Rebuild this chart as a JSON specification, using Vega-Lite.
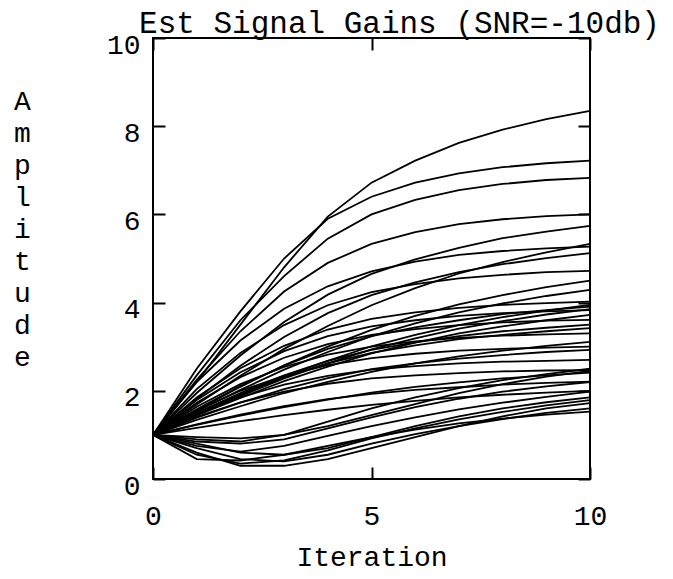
{
"$schema": "https://vega.github.io/schema/vega-lite/v6.json",
"width": 437, "height": 441,
"autosize": {"type": "none"},
"padding": {"left": 153, "top": 38, "right": 83, "bottom": 100},
"background": "white",
"config": {"view": {"stroke": "black", "strokeWidth": 2}, "font": "Liberation Mono"},
"title": {"text": "Est Signal Gains (SNR=-10db)", "font": "Liberation Mono", "fontSize": 31, "fontWeight": "normal", "color": "black", "anchor": "middle", "dx": 28, "offset": -9},
"data": {"values": [
{"c":1,"x":0,"y":1},{"c":1,"x":1,"y":2.2},{"c":1,"x":2,"y":3.5},{"c":1,"x":3,"y":4.8},{"c":1,"x":4,"y":5.95},{"c":1,"x":5,"y":6.72},{"c":1,"x":6,"y":7.22},{"c":1,"x":7,"y":7.62},{"c":1,"x":8,"y":7.92},{"c":1,"x":9,"y":8.16},{"c":1,"x":10,"y":8.35},
{"c":2,"x":0,"y":1},{"c":2,"x":1,"y":2.5},{"c":2,"x":2,"y":3.8},{"c":2,"x":3,"y":5.0},{"c":2,"x":4,"y":5.9},{"c":2,"x":5,"y":6.4},{"c":2,"x":6,"y":6.72},{"c":2,"x":7,"y":6.93},{"c":2,"x":8,"y":7.07},{"c":2,"x":9,"y":7.16},{"c":2,"x":10,"y":7.22},
{"c":3,"x":0,"y":1},{"c":3,"x":1,"y":2.35},{"c":3,"x":2,"y":3.6},{"c":3,"x":3,"y":4.6},{"c":3,"x":4,"y":5.45},{"c":3,"x":5,"y":6.0},{"c":3,"x":6,"y":6.33},{"c":3,"x":7,"y":6.55},{"c":3,"x":8,"y":6.69},{"c":3,"x":9,"y":6.78},{"c":3,"x":10,"y":6.83},
{"c":4,"x":0,"y":1},{"c":4,"x":1,"y":2.25},{"c":4,"x":2,"y":3.35},{"c":4,"x":3,"y":4.25},{"c":4,"x":4,"y":4.9},{"c":4,"x":5,"y":5.33},{"c":4,"x":6,"y":5.6},{"c":4,"x":7,"y":5.78},{"c":4,"x":8,"y":5.89},{"c":4,"x":9,"y":5.96},{"c":4,"x":10,"y":6.0},
{"c":5,"x":0,"y":1},{"c":5,"x":1,"y":1.95},{"c":5,"x":2,"y":2.8},{"c":5,"x":3,"y":3.56},{"c":5,"x":4,"y":4.18},{"c":5,"x":5,"y":4.65},{"c":5,"x":6,"y":4.98},{"c":5,"x":7,"y":5.24},{"c":5,"x":8,"y":5.46},{"c":5,"x":9,"y":5.61},{"c":5,"x":10,"y":5.74},
{"c":6,"x":0,"y":1},{"c":6,"x":1,"y":1.69},{"c":6,"x":2,"y":2.34},{"c":6,"x":3,"y":2.95},{"c":6,"x":4,"y":3.47},{"c":6,"x":5,"y":3.94},{"c":6,"x":6,"y":4.33},{"c":6,"x":7,"y":4.66},{"c":6,"x":8,"y":4.92},{"c":6,"x":9,"y":5.14},{"c":6,"x":10,"y":5.33},
{"c":7,"x":0,"y":1},{"c":7,"x":1,"y":2.2},{"c":7,"x":2,"y":3.14},{"c":7,"x":3,"y":3.86},{"c":7,"x":4,"y":4.37},{"c":7,"x":5,"y":4.71},{"c":7,"x":6,"y":4.93},{"c":7,"x":7,"y":5.08},{"c":7,"x":8,"y":5.17},{"c":7,"x":9,"y":5.23},{"c":7,"x":10,"y":5.27},
{"c":8,"x":0,"y":1},{"c":8,"x":1,"y":1.82},{"c":8,"x":2,"y":2.57},{"c":8,"x":3,"y":3.22},{"c":8,"x":4,"y":3.76},{"c":8,"x":5,"y":4.17},{"c":8,"x":6,"y":4.46},{"c":8,"x":7,"y":4.69},{"c":8,"x":8,"y":4.87},{"c":8,"x":9,"y":5.01},{"c":8,"x":10,"y":5.12},
{"c":9,"x":0,"y":1},{"c":9,"x":1,"y":2.04},{"c":9,"x":2,"y":2.86},{"c":9,"x":3,"y":3.49},{"c":9,"x":4,"y":3.94},{"c":9,"x":5,"y":4.24},{"c":9,"x":6,"y":4.42},{"c":9,"x":7,"y":4.55},{"c":9,"x":8,"y":4.63},{"c":9,"x":9,"y":4.69},{"c":9,"x":10,"y":4.72},
{"c":10,"x":0,"y":1},{"c":10,"x":1,"y":1.53},{"c":10,"x":2,"y":2.02},{"c":10,"x":3,"y":2.48},{"c":10,"x":4,"y":2.88},{"c":10,"x":5,"y":3.24},{"c":10,"x":6,"y":3.53},{"c":10,"x":7,"y":3.78},{"c":10,"x":8,"y":3.98},{"c":10,"x":9,"y":4.15},{"c":10,"x":10,"y":4.29},
{"c":11,"x":0,"y":1},{"c":11,"x":1,"y":1.85},{"c":11,"x":2,"y":2.51},{"c":11,"x":3,"y":3.02},{"c":11,"x":4,"y":3.39},{"c":11,"x":5,"y":3.63},{"c":11,"x":6,"y":3.78},{"c":11,"x":7,"y":3.88},{"c":11,"x":8,"y":3.95},{"c":11,"x":9,"y":3.99},{"c":11,"x":10,"y":4.02},
{"c":12,"x":0,"y":1},{"c":12,"x":1,"y":1.47},{"c":12,"x":2,"y":1.91},{"c":12,"x":3,"y":2.33},{"c":12,"x":4,"y":2.68},{"c":12,"x":5,"y":3.01},{"c":12,"x":6,"y":3.27},{"c":12,"x":7,"y":3.49},{"c":12,"x":8,"y":3.67},{"c":12,"x":9,"y":3.82},{"c":12,"x":10,"y":3.95},
{"c":13,"x":0,"y":1},{"c":13,"x":1,"y":1.58},{"c":13,"x":2,"y":2.11},{"c":13,"x":3,"y":2.57},{"c":13,"x":4,"y":2.95},{"c":13,"x":5,"y":3.24},{"c":13,"x":6,"y":3.44},{"c":13,"x":7,"y":3.6},{"c":13,"x":8,"y":3.74},{"c":13,"x":9,"y":3.83},{"c":13,"x":10,"y":3.91},
{"c":14,"x":0,"y":1},{"c":14,"x":1,"y":1.79},{"c":14,"x":2,"y":2.42},{"c":14,"x":3,"y":2.9},{"c":14,"x":4,"y":3.24},{"c":14,"x":5,"y":3.46},{"c":14,"x":6,"y":3.6},{"c":14,"x":7,"y":3.7},{"c":14,"x":8,"y":3.76},{"c":14,"x":9,"y":3.8},{"c":14,"x":10,"y":3.83},
{"c":15,"x":0,"y":1},{"c":15,"x":1,"y":1.44},{"c":15,"x":2,"y":1.84},{"c":15,"x":3,"y":2.22},{"c":15,"x":4,"y":2.55},{"c":15,"x":5,"y":2.85},{"c":15,"x":6,"y":3.09},{"c":15,"x":7,"y":3.3},{"c":15,"x":8,"y":3.46},{"c":15,"x":9,"y":3.6},{"c":15,"x":10,"y":3.72},
{"c":16,"x":0,"y":1},{"c":16,"x":1,"y":1.73},{"c":16,"x":2,"y":2.31},{"c":16,"x":3,"y":2.75},{"c":16,"x":4,"y":3.06},{"c":16,"x":5,"y":3.27},{"c":16,"x":6,"y":3.4},{"c":16,"x":7,"y":3.49},{"c":16,"x":8,"y":3.55},{"c":16,"x":9,"y":3.59},{"c":16,"x":10,"y":3.61},
{"c":17,"x":0,"y":1},{"c":17,"x":1,"y":1.48},{"c":17,"x":2,"y":1.92},{"c":17,"x":3,"y":2.31},{"c":17,"x":4,"y":2.62},{"c":17,"x":5,"y":2.86},{"c":17,"x":6,"y":3.03},{"c":17,"x":7,"y":3.17},{"c":17,"x":8,"y":3.27},{"c":17,"x":9,"y":3.35},{"c":17,"x":10,"y":3.42},
{"c":18,"x":0,"y":1},{"c":18,"x":1,"y":1.64},{"c":18,"x":2,"y":2.15},{"c":18,"x":3,"y":2.54},{"c":18,"x":4,"y":2.82},{"c":18,"x":5,"y":3.0},{"c":18,"x":6,"y":3.12},{"c":18,"x":7,"y":3.2},{"c":18,"x":8,"y":3.25},{"c":18,"x":9,"y":3.28},{"c":18,"x":10,"y":3.3},
{"c":19,"x":0,"y":1},{"c":19,"x":1,"y":1.34},{"c":19,"x":2,"y":1.65},{"c":19,"x":3,"y":1.95},{"c":19,"x":4,"y":2.2},{"c":19,"x":5,"y":2.43},{"c":19,"x":6,"y":2.62},{"c":19,"x":7,"y":2.78},{"c":19,"x":8,"y":2.91},{"c":19,"x":9,"y":3.02},{"c":19,"x":10,"y":3.11},
{"c":20,"x":0,"y":1},{"c":20,"x":1,"y":1.56},{"c":20,"x":2,"y":2.0},{"c":20,"x":3,"y":2.34},{"c":20,"x":4,"y":2.58},{"c":20,"x":5,"y":2.74},{"c":20,"x":6,"y":2.84},{"c":20,"x":7,"y":2.91},{"c":20,"x":8,"y":2.95},{"c":20,"x":9,"y":2.98},{"c":20,"x":10,"y":3.0},
{"c":21,"x":0,"y":1},{"c":21,"x":1,"y":1.39},{"c":21,"x":2,"y":1.73},{"c":21,"x":3,"y":2.04},{"c":21,"x":4,"y":2.29},{"c":21,"x":5,"y":2.49},{"c":21,"x":6,"y":2.62},{"c":21,"x":7,"y":2.73},{"c":21,"x":8,"y":2.81},{"c":21,"x":9,"y":2.88},{"c":21,"x":10,"y":2.93},
{"c":22,"x":0,"y":1},{"c":22,"x":1,"y":1.41},{"c":22,"x":2,"y":1.74},{"c":22,"x":3,"y":1.98},{"c":22,"x":4,"y":2.16},{"c":22,"x":5,"y":2.28},{"c":22,"x":6,"y":2.35},{"c":22,"x":7,"y":2.4},{"c":22,"x":8,"y":2.44},{"c":22,"x":9,"y":2.46},{"c":22,"x":10,"y":2.47},
{"c":23,"x":0,"y":1},{"c":23,"x":1,"y":1.23},{"c":23,"x":2,"y":1.44},{"c":23,"x":3,"y":1.63},{"c":23,"x":4,"y":1.8},{"c":23,"x":5,"y":1.96},{"c":23,"x":6,"y":2.09},{"c":23,"x":7,"y":2.19},{"c":23,"x":8,"y":2.28},{"c":23,"x":9,"y":2.35},{"c":23,"x":10,"y":2.41},
{"c":24,"x":0,"y":1},{"c":24,"x":1,"y":1.24},{"c":24,"x":2,"y":1.46},{"c":24,"x":3,"y":1.65},{"c":24,"x":4,"y":1.81},{"c":24,"x":5,"y":1.93},{"c":24,"x":6,"y":2.02},{"c":24,"x":7,"y":2.08},{"c":24,"x":8,"y":2.14},{"c":24,"x":9,"y":2.18},{"c":24,"x":10,"y":2.21},
{"c":25,"x":0,"y":1},{"c":25,"x":1,"y":0.75},{"c":25,"x":2,"y":0.62},{"c":25,"x":3,"y":0.75},{"c":25,"x":4,"y":0.98},{"c":25,"x":5,"y":1.2},{"c":25,"x":6,"y":1.4},{"c":25,"x":7,"y":1.58},{"c":25,"x":8,"y":1.73},{"c":25,"x":9,"y":1.86},{"c":25,"x":10,"y":1.98},
{"c":26,"x":0,"y":1},{"c":26,"x":1,"y":0.55},{"c":26,"x":2,"y":0.35},{"c":26,"x":3,"y":0.42},{"c":26,"x":4,"y":0.65},{"c":26,"x":5,"y":0.92},{"c":26,"x":6,"y":1.15},{"c":26,"x":7,"y":1.35},{"c":26,"x":8,"y":1.52},{"c":26,"x":9,"y":1.67},{"c":26,"x":10,"y":1.79},
{"c":27,"x":0,"y":1},{"c":27,"x":1,"y":0.6},{"c":27,"x":2,"y":0.3},{"c":27,"x":3,"y":0.3},{"c":27,"x":4,"y":0.45},{"c":27,"x":5,"y":0.7},{"c":27,"x":6,"y":0.95},{"c":27,"x":7,"y":1.2},{"c":27,"x":8,"y":1.42},{"c":27,"x":9,"y":1.6},{"c":27,"x":10,"y":1.72},
{"c":28,"x":0,"y":1},{"c":28,"x":1,"y":0.45},{"c":28,"x":2,"y":0.42},{"c":28,"x":3,"y":0.55},{"c":28,"x":4,"y":0.75},{"c":28,"x":5,"y":0.95},{"c":28,"x":6,"y":1.12},{"c":28,"x":7,"y":1.26},{"c":28,"x":8,"y":1.37},{"c":28,"x":9,"y":1.46},{"c":28,"x":10,"y":1.53},
{"c":29,"x":0,"y":1},{"c":29,"x":1,"y":0.7},{"c":29,"x":2,"y":0.45},{"c":29,"x":3,"y":0.4},{"c":29,"x":4,"y":0.55},{"c":29,"x":5,"y":0.8},{"c":29,"x":6,"y":1.02},{"c":29,"x":7,"y":1.2},{"c":29,"x":8,"y":1.36},{"c":29,"x":9,"y":1.5},{"c":29,"x":10,"y":1.6},
{"c":30,"x":0,"y":1},{"c":30,"x":1,"y":0.9},{"c":30,"x":2,"y":0.85},{"c":30,"x":3,"y":1.0},{"c":30,"x":4,"y":1.3},{"c":30,"x":5,"y":1.6},{"c":30,"x":6,"y":1.85},{"c":30,"x":7,"y":2.06},{"c":30,"x":8,"y":2.24},{"c":30,"x":9,"y":2.38},{"c":30,"x":10,"y":2.5},
{"c":31,"x":0,"y":1},{"c":31,"x":1,"y":1.16},{"c":31,"x":2,"y":1.31},{"c":31,"x":3,"y":1.45},{"c":31,"x":4,"y":1.57},{"c":31,"x":5,"y":1.68},{"c":31,"x":6,"y":1.77},{"c":31,"x":7,"y":1.85},{"c":31,"x":8,"y":1.91},{"c":31,"x":9,"y":1.96},{"c":31,"x":10,"y":2.0},
{"c":32,"x":0,"y":1},{"c":32,"x":1,"y":1.5},{"c":32,"x":2,"y":1.95},{"c":32,"x":3,"y":2.35},{"c":32,"x":4,"y":2.68},{"c":32,"x":5,"y":2.93},{"c":32,"x":6,"y":3.1},{"c":32,"x":7,"y":3.24},{"c":32,"x":8,"y":3.35},{"c":32,"x":9,"y":3.43},{"c":32,"x":10,"y":3.5},
{"c":33,"x":0,"y":1},{"c":33,"x":1,"y":1.56},{"c":33,"x":2,"y":2.09},{"c":33,"x":3,"y":2.58},{"c":33,"x":4,"y":3.0},{"c":33,"x":5,"y":3.38},{"c":33,"x":6,"y":3.7},{"c":33,"x":7,"y":3.96},{"c":33,"x":8,"y":4.17},{"c":33,"x":9,"y":4.35},{"c":33,"x":10,"y":4.5},
{"c":34,"x":0,"y":1},{"c":34,"x":1,"y":1.48},{"c":34,"x":2,"y":1.85},{"c":34,"x":3,"y":2.14},{"c":34,"x":4,"y":2.34},{"c":34,"x":5,"y":2.48},{"c":34,"x":6,"y":2.56},{"c":34,"x":7,"y":2.62},{"c":34,"x":8,"y":2.66},{"c":34,"x":9,"y":2.68},{"c":34,"x":10,"y":2.7},
{"c":35,"x":0,"y":1},{"c":35,"x":1,"y":0.85},{"c":35,"x":2,"y":0.8},{"c":35,"x":3,"y":0.9},{"c":35,"x":4,"y":1.15},{"c":35,"x":5,"y":1.4},{"c":35,"x":6,"y":1.63},{"c":35,"x":7,"y":1.82},{"c":35,"x":8,"y":1.98},{"c":35,"x":9,"y":2.1},{"c":35,"x":10,"y":2.2},
{"c":36,"x":0,"y":1},{"c":36,"x":1,"y":0.8},{"c":36,"x":2,"y":0.6},{"c":36,"x":3,"y":0.55},{"c":36,"x":4,"y":0.7},{"c":36,"x":5,"y":0.95},{"c":36,"x":6,"y":1.2},{"c":36,"x":7,"y":1.42},{"c":36,"x":8,"y":1.6},{"c":36,"x":9,"y":1.74},{"c":36,"x":10,"y":1.85},
{"c":37,"x":0,"y":1},{"c":37,"x":1,"y":1.46},{"c":37,"x":2,"y":1.88},{"c":37,"x":3,"y":2.28},{"c":37,"x":4,"y":2.62},{"c":37,"x":5,"y":2.94},{"c":37,"x":6,"y":3.19},{"c":37,"x":7,"y":3.41},{"c":37,"x":8,"y":3.58},{"c":37,"x":9,"y":3.73},{"c":37,"x":10,"y":3.85},
{"c":38,"x":0,"y":1},{"c":38,"x":1,"y":0.95},{"c":38,"x":2,"y":0.92},{"c":38,"x":3,"y":1.0},{"c":38,"x":4,"y":1.2},{"c":38,"x":5,"y":1.45},{"c":38,"x":6,"y":1.7},{"c":38,"x":7,"y":1.95},{"c":38,"x":8,"y":2.15},{"c":38,"x":9,"y":2.32},{"c":38,"x":10,"y":2.45}
]},
"layer": [
{"mark": {"type": "line", "stroke": "black", "strokeWidth": 1.8},
 "encoding": {
  "x": {"field": "x", "type": "quantitative", "scale": {"domain": [0, 10], "nice": false},
        "axis": {"orient": "bottom", "values": [0, 5, 10], "title": "Iteration", "titleFont": "Liberation Mono", "titleFontSize": 28, "titleFontWeight": "normal", "titleColor": "black", "titlePadding": 13,
                 "labelFont": "Liberation Mono", "labelFontSize": 28, "labelColor": "black", "labelPadding": 35, "labelFlush": false,
                 "tickSize": -12, "tickWidth": 2, "tickColor": "black", "domain": false, "grid": false}},
  "y": {"field": "y", "type": "quantitative", "scale": {"domain": [0, 10], "nice": false},
        "axis": {"orient": "left", "values": [0, 2, 4, 6, 8, 10], "title": ["A","m","p","l","i","t","u","d","e"], "titleAngle": 0, "titleLineHeight": 32, "titleFont": "Liberation Mono", "titleFontSize": 28, "titleFontWeight": "normal", "titleColor": "black", "titleX": -131, "titleY": 63, "titleAlign": "center", "titleBaseline": "middle",
                 "labelFont": "Liberation Mono", "labelFontSize": 28, "labelColor": "black", "labelPadding": 25, "labelOffset": 7, "labelFlush": false,
                 "tickSize": -12, "tickWidth": 2, "tickColor": "black", "domain": false, "grid": false}},
  "detail": {"field": "c", "type": "nominal"}
 }},
{"mark": {"type": "point", "opacity": 0},
 "encoding": {
  "x": {"field": "x", "type": "quantitative", "axis": {"orient": "top", "values": [0, 5, 10], "labels": false, "title": null, "tickSize": -12, "tickWidth": 2, "tickColor": "black", "domain": false, "grid": false}},
  "y": {"field": "y", "type": "quantitative", "axis": {"orient": "right", "values": [0, 2, 4, 6, 8, 10], "labels": false, "title": null, "tickSize": -12, "tickWidth": 2, "tickColor": "black", "domain": false, "grid": false}}
 }}
],
"resolve": {"axis": {"x": "independent", "y": "independent"}}
}
